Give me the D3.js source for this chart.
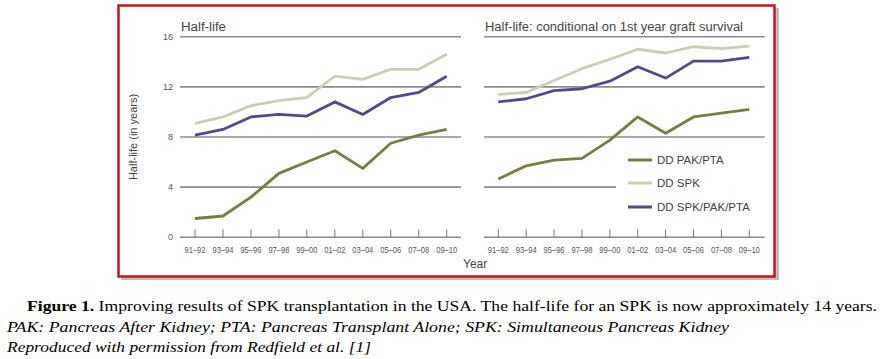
<!DOCTYPE html>
<html><head><meta charset="utf-8">
<script src="https://cdn.jsdelivr.net/npm/d3@7"></script>
<style>body{margin:0;background:#fff}svg{display:block}</style>
</head><body><svg id="c" width="881" height="359"></svg>
<script>
const categories = ["91–92","93–94","95–96","97–98","99–00","01–02","03–04","05–06","07–08","09–10"];
const yTicks = [0,4,8,12,16];
const seriesNames = ["DD PAK/PTA","DD SPK","DD SPK/PAK/PTA"];
// Left panel: Half-life
const leftPAK = [1.5,1.7,3.2,5.1,6.0,6.9,5.5,7.5,8.15,8.6];
const leftSPK = [9.08,9.6,10.5,10.9,11.15,12.85,12.6,13.4,13.4,14.6];
const leftAll = [8.15,8.6,9.6,9.8,9.67,10.8,9.8,11.15,11.55,12.85];
// Right panel: conditional on 1st year graft survival
const rightPAK = [4.65,5.7,6.15,6.3,7.75,9.6,8.3,9.6,9.9,10.2];
const rightSPK = [11.4,11.55,12.5,13.45,14.2,15.0,14.7,15.2,15.05,15.25];
const rightAll = [10.8,11.05,11.7,11.85,12.45,13.6,12.7,14.05,14.05,14.35];
const colors = ["#7b7b45","#c6d0b2","#4d4b8f"];

const svg = d3.select("#c");
// frame shadow + border
svg.append("rect").attr("x",121).attr("y",8).attr("width",658).attr("height",272).attr("fill","#bdbdbd");
svg.append("rect").attr("x",118.5).attr("y",5.5).attr("width",656).attr("height",271)
  .attr("fill","#fff").attr("stroke","#c8141e").attr("stroke-width",2.5);

const y = d3.scaleLinear().domain([0,16]).range([237.3,36.7]);
const sans = "Liberation Sans, Arial, sans-serif";

function panel(x0,x1,gx0,gx1,title,titleLen,data,showY){
  const x = d3.scalePoint().domain(categories).range([x0,x1]);
  const g = svg.append("g");
  yTicks.forEach(t=>{
    let end = gx1;
    if(!showY && t===4) end = 616;
    g.append("line").attr("x1",gx0).attr("x2",end).attr("y1",y(t)).attr("y2",y(t))
      .attr("stroke",t===0?"#8a8a8a":"#8c8c8c").attr("stroke-width",1.6);
    if(showY) g.append("text").attr("x",173).attr("y",y(t)+3).attr("text-anchor","end")
      .attr("font-family",sans).attr("font-size",9).attr("fill","#555").text(t);
  });
  categories.forEach(c=>{
    g.append("line").attr("x1",x(c)).attr("x2",x(c)).attr("y1",y(0)-8).attr("y2",y(0))
      .attr("stroke","#777").attr("stroke-width",1);
    g.append("text").attr("x",x(c)).attr("y",252.5).attr("text-anchor","middle")
      .attr("font-family",sans).attr("font-size",8.5).attr("fill","#555")
      .attr("textLength",21).attr("lengthAdjust","spacingAndGlyphs").text(c);
  });
  g.append("text").attr("x",gx0+1).attr("y",31).attr("font-family",sans).attr("font-size",12)
    .attr("fill","#444").attr("textLength",titleLen).attr("lengthAdjust","spacingAndGlyphs").text(title);
  const line = d3.line().x((d,i)=>x(categories[i])).y(d=>y(d));
  data.forEach((s,i)=>{
    g.append("path").attr("d",line(s)).attr("fill","none").attr("stroke",colors[i])
      .attr("stroke-width",2.8).attr("stroke-linejoin","round");
  });
}
panel(195,446.7,180,461,"Half-life",45,[leftPAK,leftSPK,leftAll],true);
panel(498.3,749.3,484,764.7,"Half-life: conditional on 1st year graft survival",258,[rightPAK,rightSPK,rightAll],false);

// y axis label
svg.append("text").attr("transform","translate(137,137) rotate(-90)").attr("text-anchor","middle")
  .attr("font-family",sans).attr("font-size",11).attr("fill","#444").text("Half-life (in years)");
svg.append("text").attr("x",463).attr("y",268).attr("font-family",sans).attr("font-size",12)
  .attr("fill","#444").text("Year");

// legend
const ly = [160,183,207];
seriesNames.forEach((n,i)=>{
  svg.append("line").attr("x1",628).attr("x2",652).attr("y1",ly[i]).attr("y2",ly[i])
    .attr("stroke",colors[i]).attr("stroke-width",3);
  svg.append("text").attr("x",657).attr("y",ly[i]+4).attr("font-family",sans).attr("font-size",11.5)
    .attr("fill","#444").text(n);
});

// caption
const serif = "Liberation Serif, Times New Roman, serif";
const cap1 = svg.append("text").attr("x",27).attr("y",311).attr("font-family",serif).attr("font-size",15.5)
  .attr("fill","#000").attr("textLength",850).attr("lengthAdjust","spacingAndGlyphs");
cap1.append("tspan").attr("font-weight","bold").text("Figure 1.");
cap1.append("tspan").text(" Improving results of SPK transplantation in the USA. The half-life for an SPK is now approximately 14 years.");
svg.append("text").attr("x",7).attr("y",332).attr("font-family",serif).attr("font-size",15.5)
  .attr("font-style","italic").attr("fill","#000").attr("textLength",722).attr("lengthAdjust","spacingAndGlyphs")
  .text("PAK: Pancreas After Kidney; PTA: Pancreas Transplant Alone; SPK: Simultaneous Pancreas Kidney");
svg.append("text").attr("x",7).attr("y",352).attr("font-family",serif).attr("font-size",15.5)
  .attr("font-style","italic").attr("fill","#000").attr("textLength",364).attr("lengthAdjust","spacingAndGlyphs")
  .text("Reproduced with permission from Redfield et al. [1]");
</script></body></html>
